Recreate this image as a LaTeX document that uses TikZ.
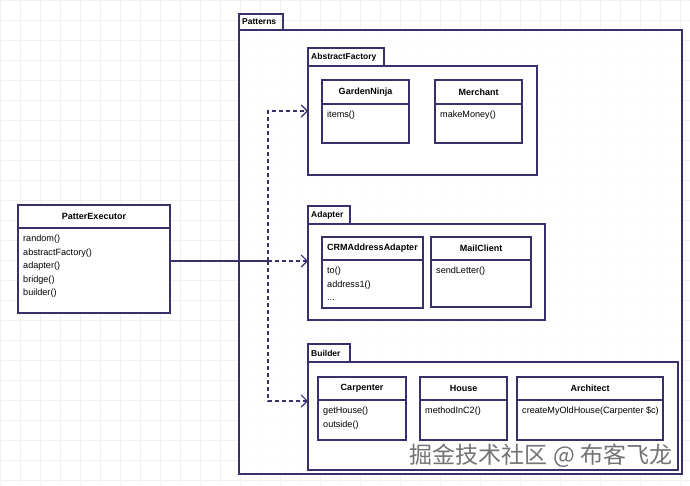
\documentclass[tikz,border=0pt]{standalone}
\usepackage{fontspec}
\setmainfont{Liberation Sans}
\newfontfamily\cjk{Noto Sans CJK SC}
\usetikzlibrary{arrows.meta}
\definecolor{ln}{HTML}{3B2F6B}
\begin{document}
\begin{tikzpicture}[x=1pt,y=-1pt,
  box/.style={draw=ln,line width=1.1pt},
  t/.style={font=\fontsize{9}{10}\selectfont\bfseries,inner sep=0pt},
  tl/.style={font=\fontsize{8.5}{10}\selectfont\bfseries,inner sep=0pt},
  m/.style={font=\fontsize{9.1}{13.5}\selectfont,inner sep=0pt,anchor=north west,align=left},
  dep/.style={draw=ln,line width=1.1pt,dash pattern=on 4pt off 3pt,-{Straight Barb[length=6pt,width=12pt]}}]
\useasboundingbox[fill=white] (0,0) rectangle (690,485);
% grid
\foreach \i in {0,20,...,680} \draw[black!6,line width=0.4pt] (\i,0)--(\i,485);
\foreach \i in {0,20,...,480} \draw[black!6,line width=0.4pt] (0,\i)--(690,\i);
% Patterns
\fill[white,opacity=0.85] (239,30) rectangle (682,474);
\draw[box] (239,14) rectangle (283,30); \node[tl,anchor=west] (pt) at (242,22) {Patterns};
\draw[box] (239,30) rectangle (682,474);
% AbstractFactory
\draw[box,fill=white] (308,48) rectangle (384,66); \node[tl,anchor=west] (afl) at (311,57) {AbstractFactory};
\draw[box,fill=white] (308,66) rectangle (537,175); \coordinate (af) at (308,111);
% Adapter
\draw[box,fill=white] (308,206) rectangle (350,224); \node[tl,anchor=west] (adl) at (311,215) {Adapter};
\draw[box,fill=white] (308,224) rectangle (545,320); \coordinate (ad) at (308,261);
% Builder
\draw[box,fill=white] (308,344) rectangle (350,362); \node[tl,anchor=west] (bul) at (311,353) {Builder};
\draw[box,fill=white] (308,362) rectangle (678,470); \coordinate (bu) at (308,401);
% classes
\newcommand\cls[7]{%
  \draw[box,fill=white] (#2,#3) rectangle (#4,#5);
  \draw[box] (#2,#6) -- (#4,#6);
  \node[t] (#1) at ({(#2+#4)/2},{(#3+#6)/2}) {#7};}
\cls{gn}{322}{80}{409}{143}{104}{GardenNinja}
\node[m] (gnm) at (327,111) {items()};
\cls{me}{435}{80}{522}{143}{104}{Merchant}
\node[m] (mem) at (440,111) {makeMoney()};
\cls{crm}{322}{237}{423}{308}{260}{CRMAddressAdapter}
\node[m] (crmm) at (327,267) {to()\\address1()\\...};
\cls{mc}{431}{237}{531}{307}{260}{MailClient}
\node[m] (mcm) at (436,267) {sendLetter()};
\cls{ca}{318}{377}{406}{440}{400}{Carpenter}
\node[m] (cam) at (323,407) {getHouse()\\outside()};
\cls{ho}{420}{377}{507}{440}{400}{House}
\node[m] (hom) at (425,407) {methodInC2()};
\cls{ar}{517}{377}{663}{440}{400}{Architect}
\node[m] (arm) at (522,407) {createMyOldHouse(Carpenter \$c)};
\cls{pe}{18}{205}{170}{313}{228}{PatterExecutor}
\node[m] (pem) at (23,235) {random()\\abstractFactory()\\adapter()\\bridge()\\builder()};
% connectors
\coordinate (pr) at (170,261);
\coordinate (j) at (268,261);
\draw[draw=ln,line width=1.1pt] (pr) -- (j);
\draw[dep] (j) |- (af);
\draw[dep] (j) -- (ad);
\draw[dep] (j) |- (bu);
% watermark
\node[font=\cjk\fontsize{23}{23}\selectfont,text=black!55,inner sep=0pt] (wm) at (541,456)
  {掘金技术社区 @ 布客飞龙};
\end{tikzpicture}
\end{document}
